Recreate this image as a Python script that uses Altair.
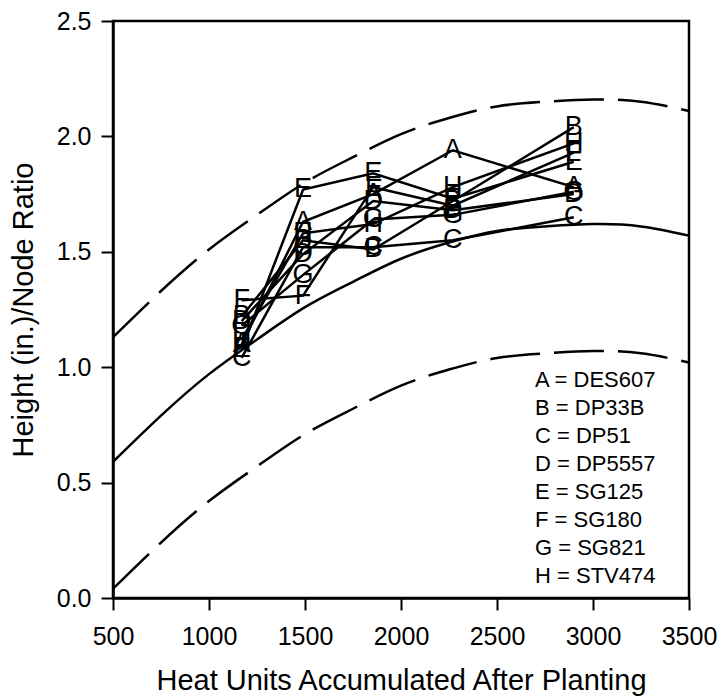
import altair as alt
import pandas as pd

# ---- data ----
heat_units = [1170, 1490, 1855, 2270, 2900]
letters = ["A", "B", "C", "D", "E", "F", "G", "H"]
cultivars = ["DES607", "DP33B", "DP51", "DP5557", "SG125", "SG180", "SG821", "STV474"]
ratio_A = [1.10, 1.63, 1.75, 1.94, 1.78]
ratio_B = [1.22, 1.55, 1.51, 1.72, 2.04]
ratio_C = [1.04, 1.52, 1.52, 1.55, 1.65]
ratio_D = [1.20, 1.49, 1.72, 1.68, 1.75]
ratio_E = [1.08, 1.77, 1.84, 1.73, 1.89]
ratio_F = [1.29, 1.31, 1.78, 1.70, 1.93]
ratio_G = [1.18, 1.40, 1.64, 1.66, 1.76]
ratio_H = [1.12, 1.58, 1.62, 1.78, 1.97]
ratios = [ratio_A, ratio_B, ratio_C, ratio_D, ratio_E, ratio_F, ratio_G, ratio_H]

curve_hu = [500, 750, 1000, 1250, 1500, 1750, 2000, 2250, 2500, 2750, 3000, 3250, 3500]
fit_mid = [0.59, 0.79, 0.97, 1.12, 1.26, 1.37, 1.47, 1.54, 1.59, 1.61, 1.62, 1.61, 1.57]
fit_upper = [1.13, 1.33, 1.51, 1.66, 1.80, 1.91, 2.01, 2.08, 2.13, 2.15, 2.16, 2.15, 2.11]
fit_lower = [0.04, 0.24, 0.42, 0.57, 0.71, 0.82, 0.92, 0.99, 1.04, 1.06, 1.07, 1.06, 1.02]

x_ticks = [500, 1000, 1500, 2000, 2500, 3000, 3500]
y_ticks = [0.0, 0.5, 1.0, 1.5, 2.0, 2.5]

# ---- tables ----
rows = []
for letter, cv, vals in zip(letters, cultivars, ratios):
    for hu, v in zip(heat_units, vals):
        rows.append({"hu": hu, "ratio": v, "letter": letter, "label": f"{letter} = {cv}"})
pts = pd.DataFrame(rows)

mid_df = pd.DataFrame({"hu": curve_hu, "ratio": fit_mid})
band_df = pd.concat([
    pd.DataFrame({"hu": curve_hu, "ratio": fit_upper, "band": "upper"}),
    pd.DataFrame({"hu": curve_hu, "ratio": fit_lower, "band": "lower"}),
])

FONT = "Liberation Sans"

xs = alt.Scale(domain=[500, 3500], nice=False, zero=False)
ys = alt.Scale(domain=[0, 2.5], nice=False)

x_enc = alt.X("hu:Q", scale=xs, axis=alt.Axis(
    title="Heat Units Accumulated After Planting", values=x_ticks, format="d",
    labelFlush=False, labelPadding=14, titlePadding=17))
y_enc = alt.Y("ratio:Q", scale=ys, axis=alt.Axis(
    title="Height (in.)/Node Ratio", values=y_ticks, format=".1f",
    labelPadding=10, titlePadding=18))

mid = alt.Chart(mid_df).mark_line(color="black", strokeWidth=2.5, interpolate="natural").encode(
    x=x_enc, y=y_enc)

band = alt.Chart(band_df).mark_line(color="black", strokeWidth=2.5, interpolate="natural",
                                    strokeDash=[50, 14]).encode(
    x=x_enc, y=y_enc, detail="band:N")

lines = alt.Chart(pts).mark_line(strokeWidth=2.5).encode(
    x=x_enc, y=y_enc,
    color=alt.Color("label:N", scale=alt.Scale(range=["black"] * 8),
                    legend=alt.Legend(title=None, orient="none", legendX=400, legendY=348,
                                      symbolSize=0, symbolStrokeWidth=0, symbolOpacity=0,
                                      labelFontSize=22, labelFont=FONT, labelColor="black",
                                      rowPadding=6, labelOffset=0, labelLimit=300)),
    detail="letter:N")

marks = alt.Chart(pts).mark_text(fontSize=27, font=FONT, color="black",
                                 align="center", baseline="middle").encode(
    x=x_enc, y=y_enc, text="letter:N")

chart = alt.layer(band, mid, lines, marks).properties(
    width=576, height=577,
    autosize=alt.AutoSizeParams(type="none"),
    padding={"left": 113, "top": 21, "right": 34, "bottom": 102},
).configure_view(
    stroke="black", strokeWidth=2.5
).configure_axis(
    grid=False, domainColor="black", domainWidth=2.5, tickColor="black", tickWidth=2,
    tickSize=12, labelFont=FONT, labelFontSize=25, labelColor="black",
    titleFont=FONT, titleFontSize=29, titleFontWeight="normal", titleColor="black"
)

chart.save("out.html", embed_options={"renderer": "svg", "actions": False})
